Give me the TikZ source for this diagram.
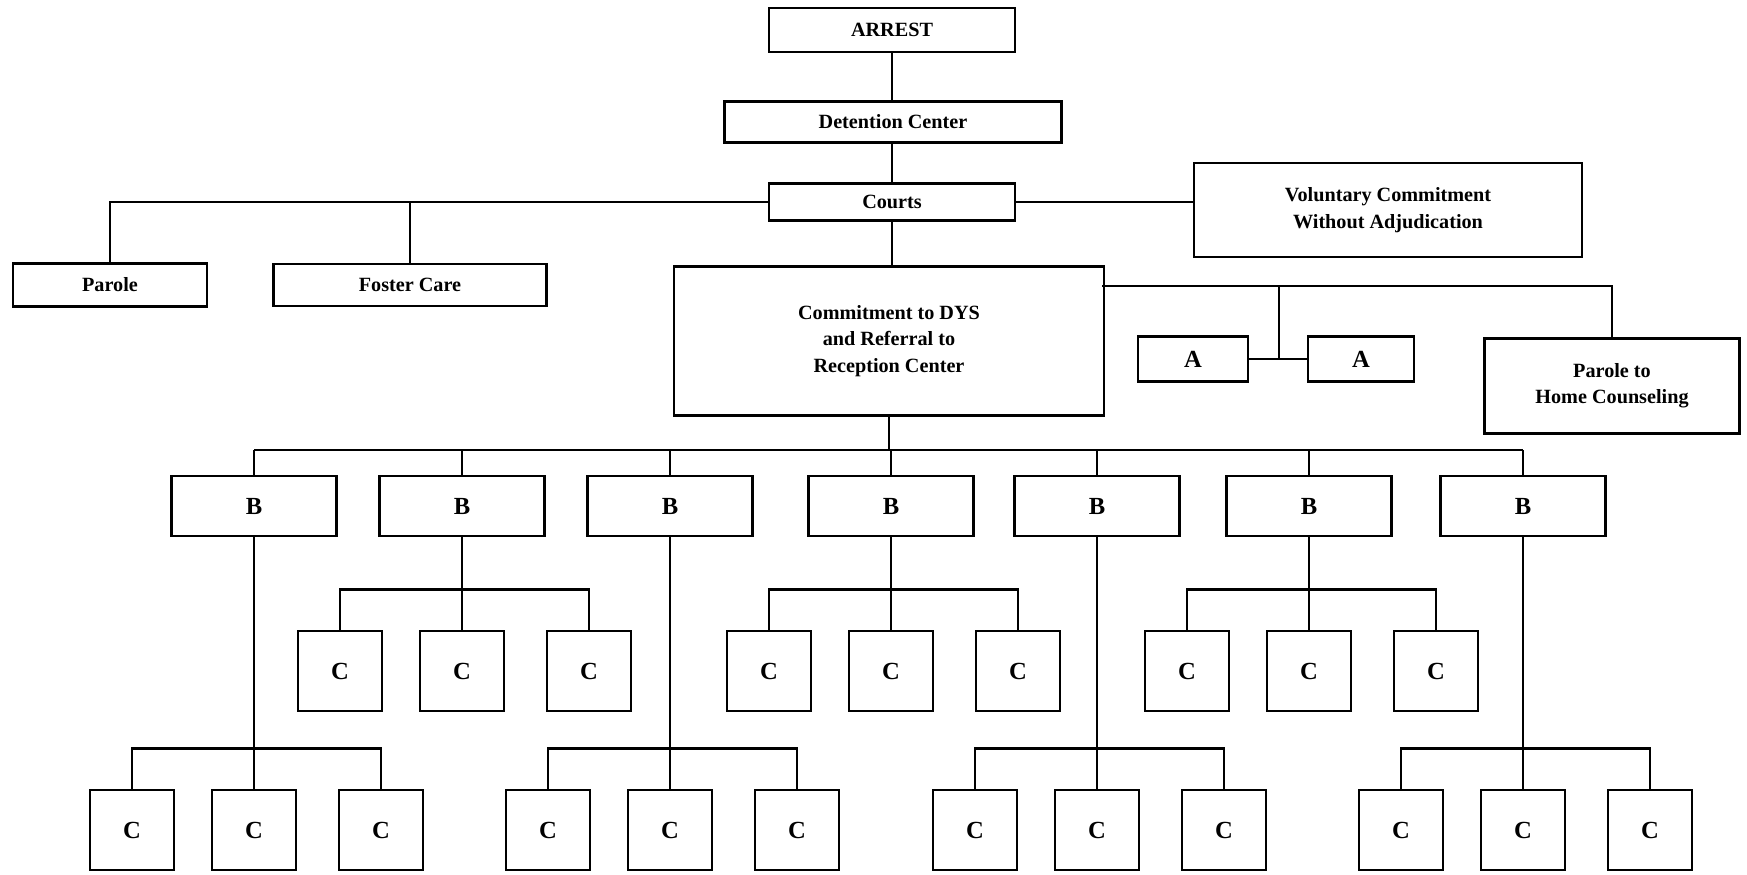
\documentclass[tikz,border=0pt]{standalone}
\usepackage{fontspec}
\setmainfont{Liberation Serif}
\usepackage{tikz}
\usetikzlibrary{positioning}

\tikzset{
	box/.style={draw, line width=1.6pt, font=\fontsize{11.5}{15}\selectfont\bfseries, align=center, inner sep=0pt},
	boxsize/.style 2 args={minimum width=#1*0.02cm, minimum height=#2*0.02cm},
	letter/.style={font=\fontsize{14}{16}\selectfont\bfseries}
}

\begin{document}
\begin{tikzpicture}[x=0.02cm, y=-0.02cm, line width=1.6pt]
	\useasboundingbox (0,0) rectangle (1747,875);

	% top chain
	\node[box, boxsize={246}{44}] (arrest) at (892,30) {ARREST};
	\node[box, boxsize={337}{41}] (detention) at (893,122) {Detention Center};
	\node[box, boxsize={246}{37}] (courts) at (892,202) {Courts};
	\node[box, boxsize={388}{94}] (voluntary) at (1388,210) {Voluntary Commitment\\Without Adjudication};
	\node[box, boxsize={194}{43}] (parole) at (110,285) {Parole};
	\node[box, boxsize={273}{42}] (foster) at (410,285) {Foster Care};
	\node[box, boxsize={430}{149}] (commit) at (889,341) {Commitment to DYS\\and Referral to\\Reception Center};
	\node[box, letter, boxsize={110}{45}] (a1) at (1193,359) {A};
	\node[box, letter, boxsize={106}{45}] (a2) at (1361,359) {A};
	\node[box, boxsize={255}{95}] (home) at (1612,386) {Parole to\\Home Counseling};

	\draw (arrest) -- (detention.north -| arrest.south);
	\draw (detention.south -| arrest.south) -- (courts);
	\draw (courts.south) -- (courts.south |- commit.north);
	\draw (courts.west) -| (parole.north);
	\draw (foster.north) |- (courts.west);
	\draw (courts.east) -- (courts.east -| voluntary.west);

	% right branch of the commitment box
	\coordinate (rbus) at (1102,286);
	\coordinate (ajoin) at (1279,359);
	\draw (rbus) -| (home.north);
	\draw (a1.east) -- (a2.west);
	\draw (ajoin) -- (ajoin |- rbus);

	% B row
	\coordinate (bbus) at (889,450);
	\foreach \x [count=\i] in {254,462,670,891,1097,1309,1523} {
		\node[box, letter, boxsize={165}{60}] (b\i) at (\x,506) {B};
		\draw (b\i.north) -- (b\i.north |- bbus);
	}
	\draw (b1.north |- bbus) -- (b7.north |- bbus);
	\draw (commit.south) -- (commit.south |- bbus);

	% C groups
	\foreach \b/\x/\y in {1/254/830, 2/462/671, 3/670/830, 4/891/671, 5/1097/830, 6/1309/671, 7/1523/830} {
		\foreach \dx [count=\j] in {-122,0,127}
			\node[box, letter, boxsize={84}{80}] (c\b\j) at (\x+\dx,\y) {C};
		\draw (b\b.south) -- (c\b2.north);
		\draw (c\b1.north) -- ++(0,-40) -| (c\b3.north);
	}
\end{tikzpicture}
\end{document}
